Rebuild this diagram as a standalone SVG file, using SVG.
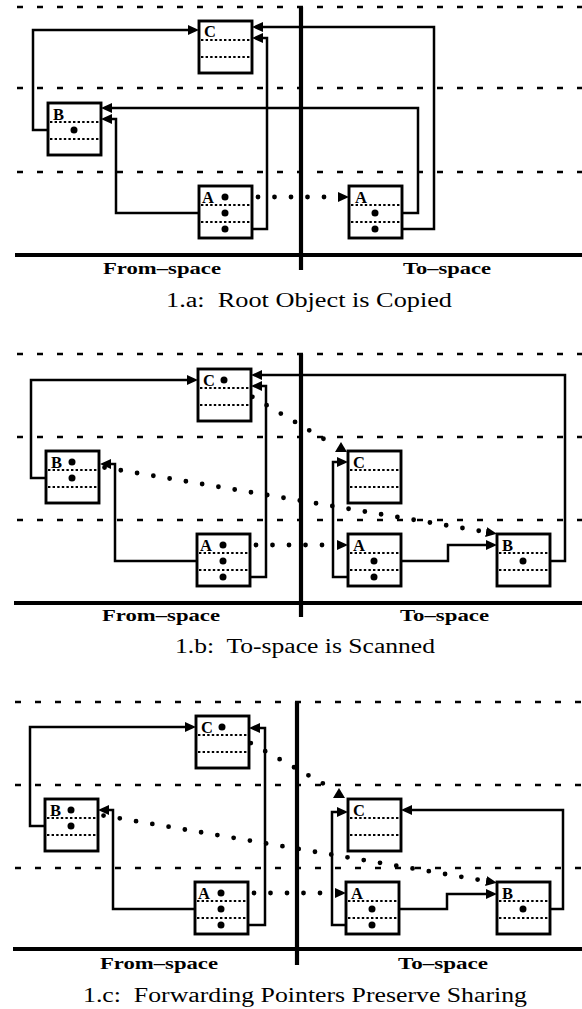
<svg xmlns="http://www.w3.org/2000/svg" width="582" height="1009" viewBox="0 0 582 1009">
<style>
.box{fill:#fff;stroke:#000;stroke-width:2.9}
.sep{stroke:#000;stroke-width:1.8;stroke-dasharray:2.4 2.2}
.lbl{font-family:"Liberation Serif",serif;font-weight:bold;font-size:16.5px}
.dot{fill:#000}
.wire{fill:none;stroke:#000;stroke-width:2.5;marker-end:url(#ah)}
.fwd{fill:none;stroke:#000;stroke-width:4.8;stroke-linecap:round;stroke-dasharray:0 16.5;marker-end:url(#ah)}
.dash{stroke:#000;stroke-width:2.4;stroke-dasharray:6 14}
.thick{stroke:#000;stroke-width:4.2}
.space{font-family:"Liberation Serif",serif;font-weight:bold;font-size:16px}
.cap{font-family:"Liberation Serif",serif;font-size:20px}
</style>
<defs>
<marker id="ah" markerUnits="userSpaceOnUse" markerWidth="12" markerHeight="10" refX="0" refY="5" orient="auto">
<path d="M0,0 L11,5 L0,10 z" fill="#000"/>
</marker>
</defs>

<!-- Panel 1.a frame -->
<g id="frame-1a">
<line class="dash" x1="17" y1="7" x2="582" y2="7"/>
<line class="dash" x1="17" y1="88" x2="582" y2="88"/>
<line class="dash" x1="17" y1="172" x2="582" y2="172"/>
<line class="thick" x1="301" y1="7" x2="301" y2="270" stroke-width="3.8"/>
<line class="thick" x1="15" y1="255" x2="582" y2="255"/>
<text class="space" x="103" y="274" textLength="118" lengthAdjust="spacingAndGlyphs">From–space</text>
<text class="space" x="403" y="274" textLength="88" lengthAdjust="spacingAndGlyphs">To–space</text>
<text class="cap" x="309" y="307" text-anchor="middle" textLength="286" lengthAdjust="spacingAndGlyphs">1.a:&#160; Root Object is Copied</text>
</g>

<!-- Panel 1.b frame -->
<g id="frame-1b">
<line class="dash" x1="17" y1="354" x2="582" y2="354"/>
<line class="dash" x1="17" y1="437" x2="582" y2="437"/>
<line class="dash" x1="17" y1="520" x2="582" y2="520"/>
<line class="thick" x1="301" y1="354" x2="301" y2="617" stroke-width="3.8"/>
<line class="thick" x1="14" y1="603" x2="582" y2="603"/>
<text class="space" x="102" y="621" textLength="118" lengthAdjust="spacingAndGlyphs">From–space</text>
<text class="space" x="400" y="621" textLength="89" lengthAdjust="spacingAndGlyphs">To–space</text>
<text class="cap" x="305" y="653" text-anchor="middle" textLength="260" lengthAdjust="spacingAndGlyphs">1.b:&#160; To-space is Scanned</text>
</g>

<!-- Panel 1.c frame -->
<g id="frame-1c">
<line class="dash" x1="15" y1="702" x2="582" y2="702"/>
<line class="dash" x1="15" y1="785" x2="582" y2="785"/>
<line class="dash" x1="15" y1="868" x2="582" y2="868"/>
<line class="thick" x1="297" y1="702" x2="297" y2="965" stroke-width="3.8"/>
<line class="thick" x1="13" y1="949" x2="582" y2="949"/>
<text class="space" x="100" y="969" textLength="118" lengthAdjust="spacingAndGlyphs">From–space</text>
<text class="space" x="398" y="969" textLength="90" lengthAdjust="spacingAndGlyphs">To–space</text>
<text class="cap" x="305" y="1002" text-anchor="middle" textLength="444" lengthAdjust="spacingAndGlyphs">1.c:&#160; Forwarding Pointers Preserve Sharing</text>
</g>

<!-- Connectors -->
<g id="connectors">
<!-- 1.a -->
<path class="wire" d="M74,130 H33 V30 H188"/>
<path class="wire" d="M375,229 H434 V27 H263"/>
<path class="wire" d="M225,229 H267 V38 H263"/>
<path class="wire" d="M375,213 H418 V108 H112"/>
<path class="wire" d="M225,213 H116 V119 H112"/>
<path class="fwd" d="M225,197 H338"/>
<!-- 1.b -->
<path class="wire" d="M72,478 H31 V380 H187"/>
<path class="wire" d="M523,561 H565 V375 H262"/>
<path class="wire" d="M223,577 H266 V386 H262"/>
<path class="wire" d="M223,561 H115 V464 H111"/>
<path class="wire" d="M374,561 H448 V545 H486"/>
<path class="wire" d="M374,577 H333 V462 H337"/>
<path class="fwd" d="M223,545 H337"/>
<path class="fwd" d="M72,462 L486,532"/>
<path class="fwd" d="M224,380 L334,445" style="marker-end:none"/>
<polygon points="341,442 335,452 347,452" fill="#000"/>
<!-- 1.c -->
<path class="wire" d="M71,826 H30 V727 H185"/>
<path class="wire" d="M221,925 H265 V728 H260"/>
<path class="wire" d="M221,909 H113 V810 H109"/>
<path class="wire" d="M372,909 H447 V894 H486"/>
<path class="wire" d="M372,925 H332 V812 H337"/>
<path class="wire" d="M523,909 H563 V810 H412"/>
<path class="fwd" d="M221,893 H335"/>
<path class="fwd" d="M71,810 L486,881"/>
<path class="fwd" d="M222,727 L333,789" style="marker-end:none"/>
<polygon points="339,788 333,798 345,798" fill="#000"/>
</g>

<!-- Nodes 1.a -->
<g id="a-from-C" transform="translate(199,21)">
<rect class="box" width="53" height="52"/>
<line class="sep" x1="2" y1="19" x2="51" y2="19"/><line class="sep" x1="2" y1="36" x2="51" y2="36"/>
<text class="lbl" x="5" y="16">C</text>
</g>
<g id="a-from-B" transform="translate(48,103)">
<rect class="box" width="53" height="52"/>
<line class="sep" x1="2" y1="19" x2="51" y2="19"/><line class="sep" x1="2" y1="36" x2="51" y2="36"/>
<text class="lbl" x="5" y="17">B</text>
<circle class="dot" cx="26" cy="27" r="3.5"/>
</g>
<g id="a-from-A" transform="translate(199,186)">
<rect class="box" width="53" height="52"/>
<line class="sep" x1="2" y1="19" x2="51" y2="19"/><line class="sep" x1="2" y1="36" x2="51" y2="36"/>
<text class="lbl" x="3" y="17">A</text>
<circle class="dot" cx="26" cy="11" r="3.5"/>
<circle class="dot" cx="26" cy="27" r="3.5"/>
<circle class="dot" cx="26" cy="43" r="3.5"/>
</g>
<g id="a-to-A" transform="translate(349,186)">
<rect class="box" width="53" height="52"/>
<line class="sep" x1="2" y1="19" x2="51" y2="19"/><line class="sep" x1="2" y1="36" x2="51" y2="36"/>
<text class="lbl" x="6" y="17">A</text>
<circle class="dot" cx="26" cy="27" r="3.5"/>
<circle class="dot" cx="26" cy="43" r="3.5"/>
</g>

<!-- Nodes 1.b -->
<g id="b-from-C" transform="translate(198,369)">
<rect class="box" width="53" height="52"/>
<line class="sep" x1="2" y1="19" x2="51" y2="19"/><line class="sep" x1="2" y1="36" x2="51" y2="36"/>
<text class="lbl" x="5" y="17">C</text>
<circle class="dot" cx="26" cy="11" r="3.5"/>
</g>
<g id="b-from-B" transform="translate(46,451)">
<rect class="box" width="53" height="52"/>
<line class="sep" x1="2" y1="19" x2="51" y2="19"/><line class="sep" x1="2" y1="36" x2="51" y2="36"/>
<text class="lbl" x="5" y="17">B</text>
<circle class="dot" cx="26" cy="11" r="3.5"/>
<circle class="dot" cx="26" cy="27" r="3.5"/>
</g>
<g id="b-from-A" transform="translate(197,534)">
<rect class="box" width="53" height="52"/>
<line class="sep" x1="2" y1="19" x2="51" y2="19"/><line class="sep" x1="2" y1="36" x2="51" y2="36"/>
<text class="lbl" x="3" y="17">A</text>
<circle class="dot" cx="26" cy="11" r="3.5"/>
<circle class="dot" cx="26" cy="27" r="3.5"/>
<circle class="dot" cx="26" cy="43" r="3.5"/>
</g>
<g id="b-to-C" transform="translate(348,451)">
<rect class="box" width="53" height="52"/>
<line class="sep" x1="2" y1="19" x2="51" y2="19"/><line class="sep" x1="2" y1="36" x2="51" y2="36"/>
<text class="lbl" x="5" y="17">C</text>
</g>
<g id="b-to-A" transform="translate(348,534)">
<rect class="box" width="53" height="52"/>
<line class="sep" x1="2" y1="19" x2="51" y2="19"/><line class="sep" x1="2" y1="36" x2="51" y2="36"/>
<text class="lbl" x="5" y="17">A</text>
<circle class="dot" cx="26" cy="27" r="3.5"/>
<circle class="dot" cx="26" cy="43" r="3.5"/>
</g>
<g id="b-to-B" transform="translate(497,534)">
<rect class="box" width="53" height="52"/>
<line class="sep" x1="2" y1="19" x2="51" y2="19"/><line class="sep" x1="2" y1="36" x2="51" y2="36"/>
<text class="lbl" x="5" y="17">B</text>
<circle class="dot" cx="26" cy="27" r="3.5"/>
</g>

<!-- Nodes 1.c -->
<g id="c-from-C" transform="translate(196,716)">
<rect class="box" width="53" height="52"/>
<line class="sep" x1="2" y1="19" x2="51" y2="19"/><line class="sep" x1="2" y1="36" x2="51" y2="36"/>
<text class="lbl" x="5" y="17">C</text>
<circle class="dot" cx="26" cy="11" r="3.5"/>
</g>
<g id="c-from-B" transform="translate(45,799)">
<rect class="box" width="53" height="52"/>
<line class="sep" x1="2" y1="19" x2="51" y2="19"/><line class="sep" x1="2" y1="36" x2="51" y2="36"/>
<text class="lbl" x="5" y="17">B</text>
<circle class="dot" cx="26" cy="11" r="3.5"/>
<circle class="dot" cx="26" cy="27" r="3.5"/>
</g>
<g id="c-from-A" transform="translate(195,882)">
<rect class="box" width="53" height="52"/>
<line class="sep" x1="2" y1="19" x2="51" y2="19"/><line class="sep" x1="2" y1="36" x2="51" y2="36"/>
<text class="lbl" x="3" y="17">A</text>
<circle class="dot" cx="26" cy="11" r="3.5"/>
<circle class="dot" cx="26" cy="27" r="3.5"/>
<circle class="dot" cx="26" cy="43" r="3.5"/>
</g>
<g id="c-to-C" transform="translate(348,799)">
<rect class="box" width="53" height="52"/>
<line class="sep" x1="2" y1="19" x2="51" y2="19"/><line class="sep" x1="2" y1="36" x2="51" y2="36"/>
<text class="lbl" x="5" y="17">C</text>
</g>
<g id="c-to-A" transform="translate(346,882)">
<rect class="box" width="53" height="52"/>
<line class="sep" x1="2" y1="19" x2="51" y2="19"/><line class="sep" x1="2" y1="36" x2="51" y2="36"/>
<text class="lbl" x="5" y="17">A</text>
<circle class="dot" cx="26" cy="27" r="3.5"/>
<circle class="dot" cx="26" cy="43" r="3.5"/>
</g>
<g id="c-to-B" transform="translate(497,882)">
<rect class="box" width="53" height="52"/>
<line class="sep" x1="2" y1="19" x2="51" y2="19"/><line class="sep" x1="2" y1="36" x2="51" y2="36"/>
<text class="lbl" x="5" y="17">B</text>
<circle class="dot" cx="26" cy="27" r="3.5"/>
</g>
</svg>
